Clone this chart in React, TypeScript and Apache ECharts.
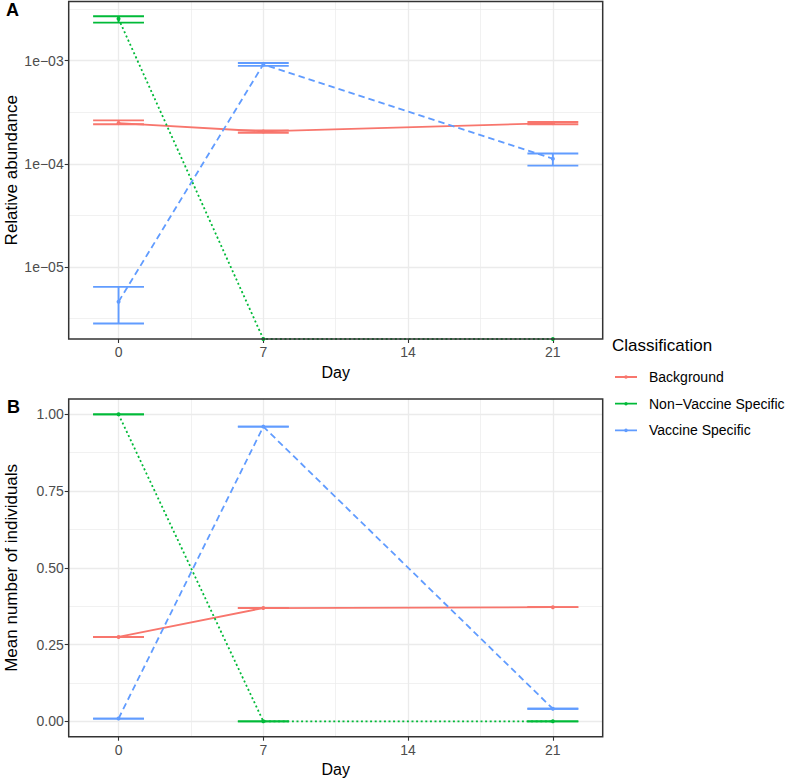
import React, { useEffect, useRef } from "react";
import * as echarts from "echarts";

const days = [0, 7, 21];
const classes = ["Background", "Non\u2212Vaccine Specific", "Vaccine Specific"];
const colors = ["#F8766D", "#00BA38", "#619CFF"];
const lineTypes: any[] = ["solid", [2, 2.6], [6.5, 4]];

// panel A: relative abundance per class (0 = not detected)
const abundance = [
  [2.48e-4, 2.06e-4, 2.48e-4],
  [2.55e-3, 0, 0],
  [4.6e-6, 9.2e-4, 1.12e-4],
];
const abundanceLo = [
  [2.42e-4, 2.0e-4, 2.42e-4],
  [2.34e-3, 0, 0],
  [2.83e-6, 8.9e-4, 9.6e-5],
];
const abundanceHi = [
  [2.64e-4, 2.11e-4, 2.54e-4],
  [2.7e-3, 0, 0],
  [6.4e-6, 9.5e-4, 1.26e-4],
];

// panel B: mean number of individuals per class
const meanIndividuals = [
  [0.275, 0.369, 0.372],
  [1.0, 0, 0],
  [0.009, 0.96, 0.041],
];

const dayTicks = [0, 7, 14, 21];
const dayMinor = [3.5, 10.5, 17.5];
const abundTicks = [1e-5, 1e-4, 1e-3];
const abundMinor = [3.162e-6, 3.162e-5, 3.162e-4, 3.162e-3];
const meanTicks = [0, 0.25, 0.5, 0.75, 1];
const meanMinor = [0.125, 0.375, 0.625, 0.875];

const DAY_MIN = -2.41;
const DAY_MAX = 23.41;
const ABUND_MIN = 2.0e-6; // zeros are squished onto the panel floor
const ABUND_MAX = 3.75e-3;
const CAP = 1.23; // half width of error bar caps, in days

const FONT = "'Liberation Sans', Arial, Helvetica, sans-serif";
const GRID_COLOR = "#EBEBEB";

const fmtLog = (v: number) => {
  const e = Math.round(Math.log10(v));
  return "1e" + (e < 0 ? "\u2212" : "+") + String(Math.abs(e)).padStart(2, "0");
};

function majorX(gridIndex: number) {
  return {
    type: "value",
    gridIndex,
    min: DAY_MIN,
    max: DAY_MAX,
    name: "Day",
    nameLocation: "middle",
    nameGap: 25,
    nameMoveOverlap: false,
    nameTextStyle: { fontSize: 16, color: "#000", fontFamily: FONT },
    axisLine: { show: false, onZero: false },
    axisTick: { show: true, length: 4, customValues: dayTicks, lineStyle: { color: "#333", width: 1.1 } },
    axisLabel: { customValues: dayTicks, margin: 6, fontSize: 14, color: "#4D4D4D", fontFamily: FONT },
    splitLine: { show: true, lineStyle: { color: GRID_COLOR, width: 1.3 } },
  };
}

function minorX(gridIndex: number) {
  return {
    type: "value",
    gridIndex,
    min: DAY_MIN,
    max: DAY_MAX,
    position: "bottom",
    axisLine: { show: false, onZero: false },
    axisTick: { show: false, customValues: dayMinor },
    axisLabel: { show: false },
    splitLine: { show: true, lineStyle: { color: GRID_COLOR, width: 0.7 } },
  };
}

function lineSeries(name: string, i: number, values: number[], xi: number, yi: number, floor?: number) {
  return {
    type: "line",
    name,
    xAxisIndex: xi,
    yAxisIndex: yi,
    data: days.map((d, k) => [d, floor != null && values[k] <= 0 ? floor : values[k]]),
    symbol: "circle",
    symbolSize: 4,
    showSymbol: true,
    clip: true,
    z: 3,
    lineStyle: { color: colors[i], width: 1.8, type: lineTypes[i] },
    itemStyle: { color: colors[i] },
    emphasis: { disabled: true },
  };
}

function errorSeries(name: string, i: number, lo: number[], hi: number[], xi: number, yi: number) {
  const rows = days
    .map((d, k) => [d, lo[k], hi[k]])
    .filter((r) => yi !== 0 || r[1] > 0);
  return {
    type: "custom",
    name,
    xAxisIndex: xi,
    yAxisIndex: yi,
    clip: true,
    z: 4,
    data: rows,
    encode: { x: 0, y: [1, 2] },
    itemStyle: { color: colors[i] },
    renderItem: (_params: any, api: any) => {
      const x = api.value(0);
      const l = api.value(1);
      const h = api.value(2);
      const a = api.coord([x - CAP, h]);
      const b = api.coord([x + CAP, h]);
      const c = api.coord([x - CAP, l]);
      const d = api.coord([x + CAP, l]);
      const m1 = api.coord([x, h]);
      const m2 = api.coord([x, l]);
      const style = { stroke: colors[i], lineWidth: 1.9 };
      return {
        type: "group",
        children: [
          { type: "line", shape: { x1: a[0], y1: a[1], x2: b[0], y2: b[1] }, style },
          { type: "line", shape: { x1: c[0], y1: c[1], x2: d[0], y2: d[1] }, style },
          { type: "line", shape: { x1: m1[0], y1: m1[1], x2: m2[0], y2: m2[1] }, style },
        ],
      };
    },
  };
}

function panelGrid(top: number, height: number) {
  return {
    left: 68.7,
    right: 184.3,
    top,
    height,
    show: true,
    z: 10,
    borderColor: "#333",
    borderWidth: 1.5,
    backgroundColor: "transparent",
    outerBoundsMode: "none",
    containLabel: false,
  };
}

export default function App() {
  const chartRef = useRef<HTMLDivElement>(null);

  useEffect(() => {
    if (!chartRef.current) return;
    document.body.style.margin = "0";
    const chart = echarts.init(chartRef.current, null, { renderer: "svg" });

    const series: any[] = [];
    classes.forEach((name, i) => {
      series.push(lineSeries(name, i, abundance[i], 0, 0, ABUND_MIN));
      series.push(errorSeries(name, i, abundanceLo[i], abundanceHi[i], 0, 0));
      series.push(lineSeries(name, i, meanIndividuals[i], 2, 2));
      series.push(errorSeries(name, i, meanIndividuals[i], meanIndividuals[i], 2, 2));
    });

    chart.setOption({
      animation: false,
      backgroundColor: "#fff",
      textStyle: { fontFamily: FONT },
      title: [
        { text: "A", left: 6, top: 1, padding: 0, textStyle: { fontSize: 18, fontWeight: "bold", color: "#000", fontFamily: FONT } },
        { text: "B", left: 7, top: 398, padding: 0, textStyle: { fontSize: 18, fontWeight: "bold", color: "#000", fontFamily: FONT } },
        { text: "Classification", left: 612, top: 337, padding: 0, textStyle: { fontSize: 17, fontWeight: "normal", color: "#000", fontFamily: FONT } },
      ],
      legend: {
        orient: "vertical",
        left: 615,
        top: 370,
        padding: 0,
        itemWidth: 22,
        itemHeight: 14,
        itemGap: 12.7,
        selectedMode: false,
        data: classes,
        icon: "path://M0,6.1h22v1.8h-22z M9.2,7a1.8,1.8 0 1,1 3.6,0a1.8,1.8 0 1,1 -3.6,0z",
        itemStyle: { borderWidth: 0 },
        textStyle: { fontSize: 14, color: "#000", fontFamily: FONT, padding: [0, 0, 0, 7] },
      },
      grid: [panelGrid(1.5, 337.5), panelGrid(399, 337.7)],
      xAxis: [majorX(0), minorX(0), majorX(1), minorX(1)],
      yAxis: [
        {
          type: "log",
          logBase: 10,
          gridIndex: 0,
          min: ABUND_MIN,
          max: ABUND_MAX,
          name: "Relative abundance",
          nameLocation: "middle",
          nameGap: 49,
          nameMoveOverlap: false,
          nameTextStyle: { fontSize: 17, color: "#000", fontFamily: FONT },
          axisLine: { show: false, onZero: false },
          axisTick: { show: true, length: 4, customValues: abundTicks, lineStyle: { color: "#333", width: 1.1 } },
          axisLabel: { customValues: abundTicks, margin: 5, fontSize: 14, color: "#4D4D4D", fontFamily: FONT, formatter: fmtLog },
          splitLine: { show: true, lineStyle: { color: GRID_COLOR, width: 1.3 } },
        },
        {
          type: "log",
          logBase: 10,
          gridIndex: 0,
          min: ABUND_MIN,
          max: ABUND_MAX,
          position: "left",
          axisLine: { show: false, onZero: false },
          axisTick: { show: false, customValues: abundMinor },
          axisLabel: { show: false },
          splitLine: { show: true, lineStyle: { color: GRID_COLOR, width: 0.7 } },
        },
        {
          type: "value",
          gridIndex: 1,
          min: -0.05,
          max: 1.05,
          name: "Mean number of individuals",
          nameLocation: "middle",
          nameGap: 49,
          nameMoveOverlap: false,
          nameTextStyle: { fontSize: 17, color: "#000", fontFamily: FONT },
          axisLine: { show: false, onZero: false },
          axisTick: { show: true, length: 4, customValues: meanTicks, lineStyle: { color: "#333", width: 1.1 } },
          axisLabel: { customValues: meanTicks, margin: 5, fontSize: 14, color: "#4D4D4D", fontFamily: FONT, formatter: (v: number) => v.toFixed(2) },
          splitLine: { show: true, lineStyle: { color: GRID_COLOR, width: 1.3 } },
        },
        {
          type: "value",
          gridIndex: 1,
          min: -0.05,
          max: 1.05,
          position: "left",
          axisLine: { show: false, onZero: false },
          axisTick: { show: false, customValues: meanMinor },
          axisLabel: { show: false },
          splitLine: { show: true, lineStyle: { color: GRID_COLOR, width: 0.7 } },
        },
      ],
      series,
    });

    return () => {
      chart.dispose();
    };
  }, []);

  return <div ref={chartRef} style={{ width: "787px", height: "780px" }} />;
}
